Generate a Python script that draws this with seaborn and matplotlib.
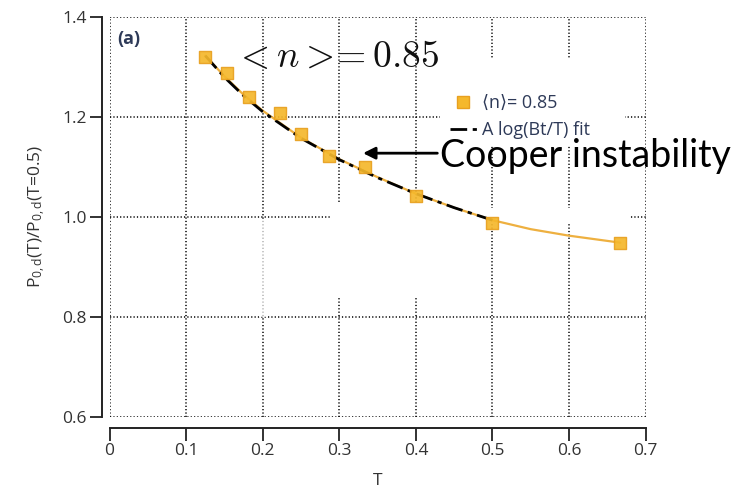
"""Cooper-instability panel: P_0,d(T)/P_0,d(T=0.5) vs T for <n> = 0.85."""
import matplotlib
matplotlib.use("Agg")
import matplotlib.pyplot as plt
from matplotlib.lines import Line2D
from matplotlib.patches import Rectangle
from matplotlib.ticker import FuncFormatter
import pandas as pd
import seaborn as sns

# ── data ────────────────────────────────────────────────────────────────
T_POINTS = [0.125, 0.154, 0.182, 0.222, 0.25, 0.286, 0.333, 0.4, 0.5, 0.667]
RATIO_POINTS = [1.320, 1.287, 1.240, 1.207, 1.165, 1.122, 1.099, 1.042, 0.988, 0.948]

# thin orange guide line through the points
T_GUIDE = [0.125, 0.15, 0.175, 0.2, 0.25, 0.3, 0.35, 0.4, 0.45, 0.5, 0.55, 0.6, 0.667]
RATIO_GUIDE = [1.322, 1.281, 1.244, 1.212, 1.158, 1.115, 1.079, 1.046, 1.018, 0.993, 0.975, 0.962, 0.948]

# A log(Bt/T) fit, drawn up to T = 0.5
T_FIT = [0.125, 0.15, 0.175, 0.2, 0.25, 0.3, 0.35, 0.4, 0.45, 0.5]
RATIO_FIT = [1.322, 1.279, 1.242, 1.210, 1.157, 1.114, 1.078, 1.046, 1.018, 0.993]

X_TICKS = [0, 0.1, 0.2, 0.3, 0.4, 0.5, 0.6, 0.7]
Y_TICKS = [0.6, 0.8, 1.0, 1.2, 1.4]

GOLD = "#f5b82c"
GOLD_EDGE = "#e8a020"
TXT = "#333333"
NAVY = "#2e3a58"

sns.set_theme(style="ticks")
plt.rcParams["font.family"] = ["Open Sans", "DejaVu Sans"]
plt.rcParams["mathtext.fontset"] = "custom"
plt.rcParams["mathtext.rm"] = "Open Sans"
plt.rcParams["mathtext.it"] = "Open Sans:italic"
plt.rcParams["mathtext.bf"] = "Open Sans:bold"

fig = plt.figure(figsize=(7.40, 4.98), dpi=100)
ax = fig.add_axes([0.148, 0.1633, 0.7245, 0.8032])

pts = pd.DataFrame({"T": T_POINTS, "ratio": RATIO_POINTS})
guide = pd.DataFrame({"T": T_GUIDE, "ratio": RATIO_GUIDE})
fit = pd.DataFrame({"T": T_FIT, "ratio": RATIO_FIT})

sns.lineplot(data=guide, x="T", y="ratio", ax=ax, color="#eeb040", lw=1.6,
             legend=False, zorder=3)
sns.lineplot(data=fit, x="T", y="ratio", ax=ax, color="black", lw=2.0,
             dashes=False, legend=False, zorder=4)
ax.lines[-1].set_dashes((6, 2, 1.5, 2))
sns.scatterplot(data=pts, x="T", y="ratio", ax=ax, marker="s", s=78,
                color=GOLD, edgecolor=GOLD_EDGE, linewidth=1.0, alpha=0.92,
                legend=False, zorder=5)

ax.set_xlim(0, 0.7)
ax.set_ylim(0.6, 1.4)
ax.set_xticks(X_TICKS)
ax.set_yticks(Y_TICKS)
ax.xaxis.set_major_formatter(FuncFormatter(lambda v, _: "0" if v == 0 else f"{v:.1f}"))
ax.yaxis.set_major_formatter(FuncFormatter(lambda v, _: f"{v:.1f}"))
ax.tick_params(axis="both", direction="out", length=9, width=1.3, color="#222222",
               labelsize=12.5, labelcolor=TXT, pad=2)

ax.grid(True, color="black", lw=1.1, linestyle=(0, (0.8, 1.4)))
for gl in ax.get_xgridlines() + ax.get_ygridlines():
    gl.set_clip_on(False)
ax.set_axisbelow(True)

sns.despine(ax=ax, offset={"left": 5.6, "bottom": 8.1})
for side in ("left", "bottom"):
    ax.spines[side].set_linewidth(1.4)
    ax.spines[side].set_color("#222222")

ax.set_xlabel("T", fontsize=12.5, color=TXT, labelpad=10)
ax.set_ylabel(r"P$_{0,\mathrm{d}}$(T)/P$_{0,\mathrm{d}}$(T=0.5)", fontsize=12.5,
              color=TXT, labelpad=10)

# white patches where the original figure hides the grid (legend box etc.)
for (x0, y0, w, h, a) in [(0.431, 1.143, 0.242, 0.172, 1.0),
                          (0.288, 0.839, 0.165, 0.186, 1.0),
                          (0.288, 0.988, 0.392, 0.029, 1.0),
                          (0.195, 0.80, 0.012, 0.195, 0.7)]:
    ax.add_patch(Rectangle((x0, y0), w, h, facecolor="white", edgecolor="none",
                           alpha=a, zorder=1.5))

ax.text(0.014, 0.967, "(a)", transform=ax.transAxes, ha="left", va="top",
        fontsize=13, fontweight="bold", color=NAVY)
ax.text(0.163, 1.32, r"$<n>\!\!=0.85$", ha="left", va="center", fontsize=27,
        color="#111111", math_fontfamily="cm")

handles = [
    Line2D([], [], marker="s", ls="none", ms=9, color=GOLD, mec=GOLD_EDGE),
    Line2D([], [], color="black", lw=2.0, dashes=(6, 2, 1.5, 2)),
]
leg = ax.legend(handles, ["\u27e8n\u27e9= 0.85", "A log(Bt/T) fit"],
                loc="upper left", bbox_to_anchor=(0.628, 0.8155), frameon=False,
                fontsize=13, handlelength=1.5, handletextpad=0.3,
                borderpad=0.2, labelspacing=0.5, borderaxespad=0)
for t in leg.get_texts():
    t.set_color(NAVY)

# annotation: arrow + label
ax.annotate("", xy=(0.331, 1.127), xytext=(0.428, 1.127),
            annotation_clip=False,
            arrowprops=dict(arrowstyle="-|>", color="black", lw=2.0,
                            mutation_scale=18, shrinkA=0, shrinkB=0),
            zorder=6)
ax.text(0.4315, 1.0994, "Cooper instability", ha="left", va="baseline",
        fontsize=27, color="black", family=["Lato", "DejaVu Sans"],
        clip_on=False, zorder=6)

fig.savefig("out.png", dpi=100)
